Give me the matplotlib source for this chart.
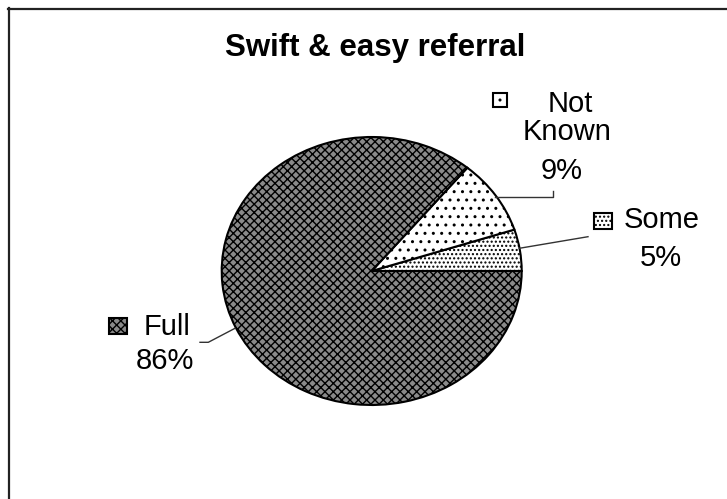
import matplotlib
matplotlib.use("Agg")
import matplotlib.pyplot as plt
from matplotlib.patches import Rectangle
from matplotlib.lines import Line2D

plt.rcParams['font.family'] = ['Liberation Sans', 'DejaVu Sans']
plt.rcParams['hatch.linewidth'] = 1.0

# ---- data ----
title = "Swift & easy referral"
categories = ["Some", "Not Known", "Full"]
values = [5, 9, 86]
pct_labels = ["5%", "9%", "86%"]
face_colors = ["white", "white", "#8a8a8a"]
hatches = ["....", "..", "xxxx"]

W, H = 727, 499
fig = plt.figure(figsize=(W / 100, H / 100), dpi=100)
fig.patch.set_facecolor("white")

def fx(px):
    return px / W

def fy(py):
    return 1 - py / H

# pie axes positioned to the elliptical pie bbox
left, right, top, bottom = 221.7, 521.7, 137.0, 405.0
ax = fig.add_axes([fx(left), fy(bottom), (right - left) / W, (bottom - top) / H])
wedges, _ = ax.pie(values, startangle=0, counterclock=True, colors=face_colors,
                   hatch=hatches,
                   wedgeprops=dict(edgecolor="black", linewidth=1.5))
ax.set_aspect("auto")
ax.set_xlim(-1, 1)
ax.set_ylim(-1, 1)
ax.axis("off")

# border (only top and left visible)
fig.add_artist(Line2D([fx(8), fx(727)], [fy(8.5), fy(8.5)], transform=fig.transFigure,
                      color="#222222", linewidth=1.6))
fig.add_artist(Line2D([fx(8.5), fx(8.5)], [fy(8), fy(499)], transform=fig.transFigure,
                      color="#222222", linewidth=1.6))

# title
fig.text(fx(375), fy(56), title, ha="center", va="baseline", fontsize=22.5,
         fontweight="bold")

# labels
fs = 21
label_specs = {
    "Not Known": dict(lines=[("Not", 570, 112), ("Known", 567, 140)], pct=(562, 179),
                      key=(493, 93.5, 14, 13)),
    "Some": dict(lines=[("Some", 661.3, 228)], pct=(661, 265.7),
                 key=(594, 213, 17.7, 16)),
    "Full": dict(lines=[("Full", 166.7, 335)], pct=(165.3, 369.3),
                 key=(109.3, 318.3, 17.4, 15.7)),
}
for cat, pct, fc, hz in zip(categories, pct_labels, face_colors, hatches):
    spec = label_specs[cat]
    for txt, x, y in spec["lines"]:
        fig.text(fx(x), fy(y), txt, ha="center", va="baseline", fontsize=fs)
    fig.text(fx(spec["pct"][0]), fy(spec["pct"][1]), pct, ha="center", va="baseline",
             fontsize=fs)
    kx, ky, kw, kh = spec["key"]
    fig.add_artist(Rectangle((fx(kx), fy(ky + kh)), kw / W, kh / H,
                             transform=fig.transFigure, facecolor=fc, hatch=hz,
                             edgecolor="black", linewidth=1.5))

# leader lines
leaders = [
    [(495, 197.3), (552.7, 197.3), (552.7, 190.7)],
    [(519.3, 248.3), (588, 236.7)],
    [(235, 328.3), (208.3, 342.3), (200, 342.3)],
]
for pts in leaders:
    xs = [fx(p[0]) for p in pts]
    ys = [fy(p[1]) for p in pts]
    fig.add_artist(Line2D(xs, ys, transform=fig.transFigure, color="#333333",
                          linewidth=1.0))

fig.savefig("out.png", dpi=100)
